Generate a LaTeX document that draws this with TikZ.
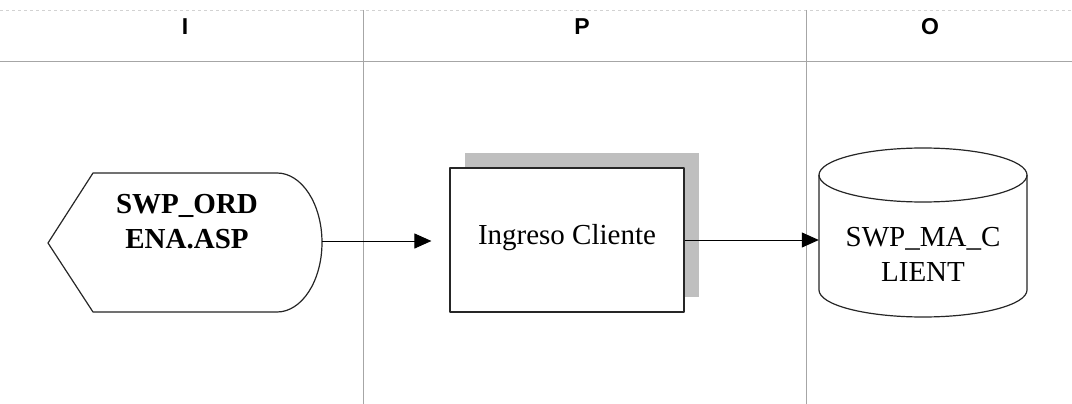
\documentclass[tikz,border=0pt]{standalone}
\usepackage{fontspec}
\setmainfont{Liberation Serif}
\newfontfamily\hdsans{Liberation Sans}
\usetikzlibrary{arrows.meta,shadows}
\begin{document}
\begin{tikzpicture}[x=1pt,y=-1pt,line join=round,font=\fontsize{29}{35}\selectfont,
  grid/.style={gray!70,line width=.8pt},
  hdr/.style={font=\hdsans\bfseries\fontsize{23}{28}\selectfont},
  shp/.style={draw=black!85,line width=1.2pt,fill=white},
  flow/.style={line width=1pt,-{Triangle[length=17pt,width=15pt]}}]
\useasboundingbox(0,0)rectangle(1072,404);
% table I P O
\draw[grid,gray!35,dashed](0,10)--(1072,10);
\draw[grid](0,61)--(1072,61) (363,10)--(363,404) (806,10)--(806,404);
\node[hdr](hI)at(185,27){I};\node[hdr](hP)at(582,27){P};\node[hdr](hO)at(930,27){O};
% display SWP_ORDENA.ASP
\coordinate(dL)at(48,243);\coordinate(dT)at(277,173);\coordinate(dR)at(322,241);
\draw[shp](dL)--(93,173)--(dT)arc[start angle=90,end angle=-90,x radius=45pt,y radius=69.5pt]--(93,312)--cycle;
\node[align=center,font=\bfseries\fontsize{29}{35}\selectfont](disp)at(187,222){SWP\_ORD\\ENA.ASP};
% process Ingreso Cliente
\node[shp,minimum width=234pt,minimum height=144pt,text depth=12pt,drop shadow={shadow xshift=15pt,shadow yshift=15pt,fill=gray!50,opacity=1}](ing)at(567,240){Ingreso Cliente};
% database SWP_MA_CLIENT
\node[minimum width=208pt,minimum height=169pt,inner sep=0pt](cli)at(923,232.5){};
\draw[shp](819,175)--(819,290)arc[start angle=180,end angle=360,x radius=104pt,y radius=27pt]--(1027,175)arc[start angle=0,end angle=180,x radius=104pt,y radius=27pt];
\draw[shp,fill=none](819,175)arc[start angle=180,end angle=360,x radius=104pt,y radius=27pt];
\node[align=center](clitxt)at(923,254.5){SWP\_MA\_C\\LIENT};
% arrows
\draw[flow,shorten >=18pt](dR)--(ing.west|-dR);
\draw[flow](ing.east)--(cli.west|-ing.east);
\end{tikzpicture}
\end{document}
